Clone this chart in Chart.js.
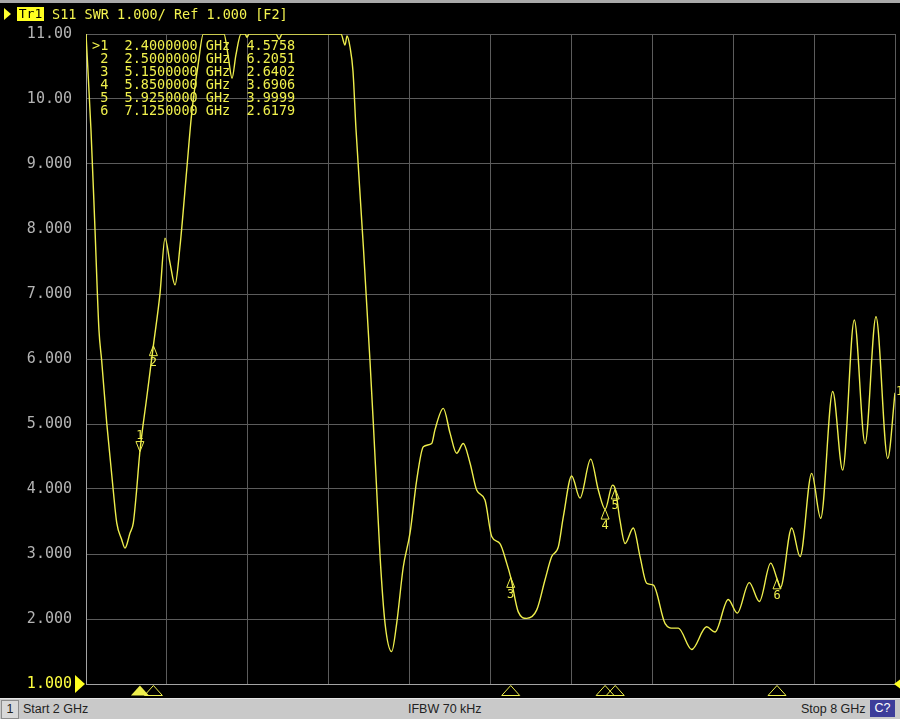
<!DOCTYPE html>
<html>
<head>
<meta charset="utf-8">
<script src="https://cdn.jsdelivr.net/npm/chart.js@4.4.0/dist/chart.umd.min.js"></script>
<style>
  body { margin: 0; background: #000; width: 900px; height: 719px; overflow: hidden; position: relative; }
  #wrap { position: absolute; left: 0; top: 0; width: 900px; height: 719px; }
  #topline { position: absolute; left: 0; top: 0; width: 900px; height: 3px; background: #a9a9a9; }
  #tri { position: absolute; left: 4px; top: 8px; width: 0; height: 0;
         border-left: 7px solid #ffff30; border-top: 6px solid transparent; border-bottom: 6px solid transparent; }
  #trbox { position: absolute; left: 17px; top: 7px; width: 27px; height: 14px; background: #ffff20; color: #000;
           font: 13px "DejaVu Sans Mono", monospace; line-height: 14px; text-align: center; }
  #head { position: absolute; left: 52px; top: 6px; color: #f4f450; font: 13.5px "DejaVu Sans Mono", monospace;
          white-space: pre; line-height: 16px; }
  #mtable { position: absolute; left: 92px; top: 39px; color: #f0f04c; font: 13.5px "DejaVu Sans Mono", monospace;
            white-space: pre; line-height: 13px; }
  #status { position: absolute; left: 0; top: 698px; width: 900px; height: 21px; background: #c9c9c9;
            border-top: 1px solid #e6e6e6; box-sizing: border-box; font: 12.5px "Liberation Sans", Arial, sans-serif; color: #222; }
  #status span { position: absolute; top: 3px; white-space: pre; }
  #chnum { left: 1px; top: 1px !important; width: 16px; height: 17px; border: 1px solid #8c8c8c; background: #d8d8d8;
           text-align: center; line-height: 17px; }
  #cq { left: 870px; top: 1px !important; width: 25px; height: 17px; background: #3d3d9a; color: #fff;
        text-align: center; line-height: 17px; }
</style>
</head>
<body>
<div id="wrap"><canvas id="chart"></canvas></div>
<div id="topline"></div>
<div id="tri"></div>
<div id="trbox">Tr1</div>
<div id="head">S11 SWR 1.000/ Ref 1.000 [F2]</div>
<div id="mtable"></div>
<div id="status">
  <span id="chnum">1</span>
  <span style="left:23px">Start 2 GHz</span>
  <span style="left:408px">IFBW 70 kHz</span>
  <span style="left:801px">Stop 8 GHz</span>
  <span id="cq">C?</span>
</div>
<script>
// trace S11 SWR
const freqGHz = [
  2.000, 2.037, 2.067, 2.096, 2.116, 2.154, 2.202, 2.228, 2.265, 2.289,
  2.326, 2.351, 2.371, 2.400, 2.450, 2.500, 2.549, 2.586, 2.623, 2.660,
  2.697, 2.747, 2.784, 2.833, 2.870, 3.023, 3.053, 3.083, 3.112, 3.150,
  3.180, 3.194, 3.209, 3.409, 3.432, 3.454, 3.891, 3.921, 3.936, 3.958,
  3.980, 4.002, 4.057, 4.106, 4.131, 4.156, 4.181, 4.218, 4.267, 4.304,
  4.353, 4.403, 4.453, 4.502, 4.564, 4.588, 4.650, 4.700, 4.749, 4.798,
  4.848, 4.898, 4.959, 5.009, 5.070, 5.120, 5.150, 5.206, 5.268, 5.343,
  5.404, 5.454, 5.503, 5.540, 5.602, 5.664, 5.743, 5.800, 5.850, 5.905,
  5.925, 5.960, 5.998, 6.059, 6.109, 6.158, 6.208, 6.295, 6.356, 6.393,
  6.492, 6.603, 6.665, 6.763, 6.830, 6.919, 6.994, 7.078, 7.125, 7.150,
  7.234, 7.296, 7.382, 7.449, 7.538, 7.612, 7.698, 7.778, 7.859, 7.946,
  8.000
];
const swrValues = [
  11.00, 9.52, 7.98, 6.45, 5.98, 5.01, 3.98, 3.48, 3.22, 3.09,
  3.32, 3.48, 3.88, 4.58, 5.40, 6.21, 7.01, 7.86, 7.48, 7.14,
  7.73, 8.91, 9.78, 10.55, 11.00, 11.00, 10.68, 10.32, 10.68, 11.00,
  11.00, 10.95, 11.00, 11.00, 10.92, 11.00, 11.00, 10.83, 10.97, 10.80,
  10.43, 9.55, 7.73, 5.98, 5.01, 3.98, 2.96, 1.93, 1.50, 1.93,
  2.80, 3.32, 4.14, 4.65, 4.70, 4.91, 5.24, 4.86, 4.55, 4.70,
  4.40, 3.98, 3.83, 3.27, 3.16, 2.86, 2.64, 2.11, 2.01, 2.14,
  2.60, 2.96, 3.11, 3.57, 4.20, 3.86, 4.46, 3.98, 3.69, 4.06,
  4.00, 3.52, 3.16, 3.40, 2.96, 2.55, 2.52, 1.93, 1.86, 1.86,
  1.53, 1.88, 1.80, 2.30, 2.09, 2.56, 2.27, 2.86, 2.62, 2.48,
  3.40, 2.96, 4.24, 3.55, 5.50, 4.29, 6.60, 4.70, 6.65, 4.47,
  5.48
];

const markerNo = [1, 2, 3, 4, 5, 6];
const markerGHz = [2.4, 2.5, 5.15, 5.85, 5.925, 7.125];
const markerSwr = [4.5758, 6.2051, 2.6402, 3.6906, 3.9999, 2.6179];

const xGridGHz = [2, 2.6, 3.2, 3.8, 4.4, 5, 5.6, 6.2, 6.8, 7.4, 8];

const YELLOW = "#eeee4c";

// marker readout table
let rows = [];
for (let i = 0; i < markerNo.length; i++) {
  rows.push((i == 0 ? ">" : " ") + markerNo[i] + "  " + markerGHz[i].toFixed(7) + " GHz  " + markerSwr[i].toFixed(4));
}
document.getElementById("mtable").textContent = rows.join("\n");

const markerPlugin = {
  id: "markers",
  afterDatasetsDraw(chart) {
    const ctx = chart.ctx;
    const xs = chart.scales.x;
    const ys = chart.scales.y;
    const area = chart.chartArea;
    ctx.save();
    ctx.strokeStyle = YELLOW;
    ctx.fillStyle = YELLOW;
    ctx.lineWidth = 1;
    ctx.font = '12px "DejaVu Sans Mono"';
    ctx.textAlign = "center";
    for (let i = 0; i < markerGHz.length; i++) {
      const px = xs.getPixelForValue(markerGHz[i]);
      const py = ys.getPixelForValue(markerSwr[i]);
      ctx.beginPath();
      if (i == 0) {
        ctx.moveTo(px, py);
        ctx.lineTo(px - 4, py - 10);
        ctx.lineTo(px + 4, py - 10);
        ctx.closePath();
        ctx.stroke();
        ctx.textBaseline = "bottom";
        ctx.fillText(String(markerNo[i]), px, py - 10);
      } else {
        ctx.moveTo(px, py);
        ctx.lineTo(px - 4, py + 10);
        ctx.lineTo(px + 4, py + 10);
        ctx.closePath();
        ctx.stroke();
        ctx.textBaseline = "top";
        ctx.fillText(String(markerNo[i]), px, py + 11);
      }
      // position marks under the grid
      const by = area.bottom + 1.5;
      ctx.beginPath();
      ctx.moveTo(px, by);
      ctx.lineTo(px - 9, by + 10);
      ctx.lineTo(px + 9, by + 10);
      ctx.closePath();
      if (i == 0) ctx.fill();
      else ctx.stroke();
    }
    // reference level pointer
    const ry = ys.getPixelForValue(1);
    ctx.fillStyle = "#ffff20";
    ctx.beginPath();
    ctx.moveTo(area.left - 1, ry);
    ctx.lineTo(area.left - 11, ry - 9);
    ctx.lineTo(area.left - 11, ry + 9);
    ctx.closePath();
    ctx.fill();
    ctx.beginPath();
    ctx.moveTo(area.right - 1, ry);
    ctx.lineTo(area.right + 7, ry - 6);
    ctx.lineTo(area.right + 7, ry + 6);
    ctx.closePath();
    ctx.fill();
    // trace end label
    ctx.fillStyle = YELLOW;
    ctx.textAlign = "left";
    ctx.textBaseline = "middle";
    ctx.fillText("1", area.right + 1, ys.getPixelForValue(swrValues[swrValues.length - 1]) - 1);
    ctx.restore();
  }
};

const data = {
  datasets: [
    {
      label: "S11 SWR",
      data: freqGHz.map((f, i) => ({ x: f, y: swrValues[i] })),
      borderColor: YELLOW,
      borderWidth: 1.4,
      pointRadius: 0,
      cubicInterpolationMode: "monotone",
      fill: false,
    },
  ],
};

const config = {
  type: "line",
  data: data,
  options: {
    responsive: true,
    maintainAspectRatio: false,
    animation: false,
    layout: { padding: { left: 0, right: 5, top: 34, bottom: 0 } },
    plugins: { legend: { display: false }, tooltip: { enabled: false } },
    scales: {
      x: {
        type: "linear",
        min: 2,
        max: 8,
        afterBuildTicks: (s) => { s.ticks = xGridGHz.map((v) => ({ value: v })); },
        afterFit: (s) => { s.height = 35; },
        ticks: { display: false },
        grid: { color: "#5c5c5c", lineWidth: 1, drawTicks: false },
        border: { display: true, color: "#a4a4a4", width: 1 },
      },
      y: {
        min: 1,
        max: 11,
        afterFit: (s) => { s.width = 86; },
        ticks: {
          stepSize: 1,
          padding: 14,
          font: { family: "DejaVu Sans Mono", size: 15 },
          color: (c) => (c.tick.value == 1 ? "#ffff40" : "#b4b4b4"),
          callback: (v) => (v >= 10 ? v.toFixed(2) : v.toFixed(3)),
        },
        grid: { color: "#5c5c5c", lineWidth: 1, drawTicks: false },
        border: { display: true, color: "#a4a4a4", width: 1 },
      },
    },
  },
  plugins: [markerPlugin],
};

new Chart(document.getElementById("chart"), config);
</script>
</body>
</html>
